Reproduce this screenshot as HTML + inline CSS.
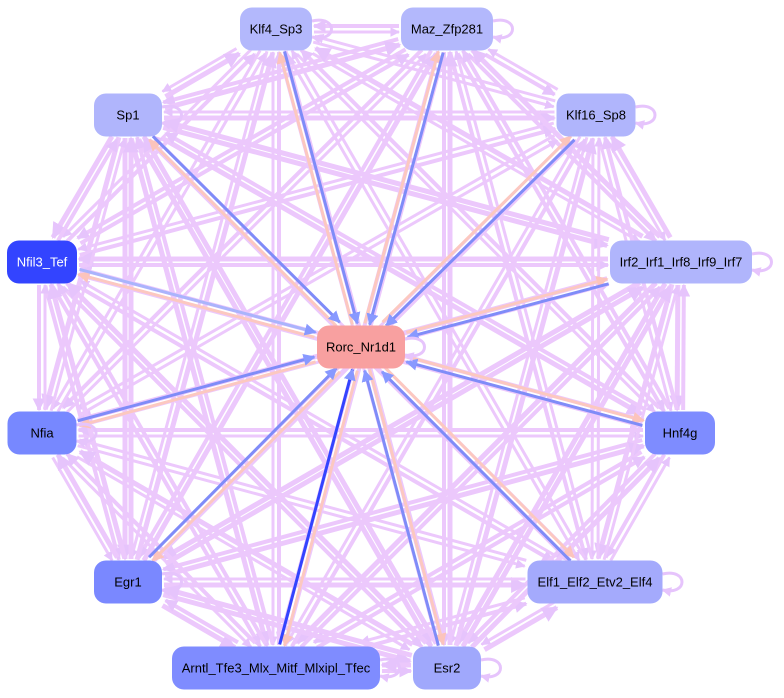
<!DOCTYPE html>
<html><head><meta charset="utf-8"><style>
html,body{margin:0;padding:0;background:#fff;width:784px;height:698px;overflow:hidden}
svg text{font-family:"Liberation Sans",sans-serif;font-size:13px;text-anchor:middle;dominant-baseline:central}
</style></head><body>
<svg id="s" width="784" height="698" xmlns="http://www.w3.org/2000/svg">
<defs>
<marker id="al" viewBox="0 0 10 10" refX="9" refY="5" markerWidth="3.2" markerHeight="3.2" orient="auto"><path d="M0,0L10,5L0,10z" fill="#e6c4fc"/></marker>
<marker id="ab" viewBox="0 0 10 10" refX="9" refY="5" markerWidth="4" markerHeight="4" orient="auto"><path d="M0,0L10,5L0,10z" fill="#8899ff"/></marker>
<marker id="ap" viewBox="0 0 10 10" refX="9" refY="5" markerWidth="4" markerHeight="4" orient="auto"><path d="M0,0L10,5L0,10z" fill="#fcc4bc"/></marker>
</defs>
<g id="edges"></g>
<g id="nodes"></g>
</svg>
<script>
var N=[
["Klf4_Sp3",276,29,72,"#b3b8fc","#000"],
["Maz_Zfp281",447,29,92,"#b3b8fc","#000"],
["Sp1",128,115,68,"#b0b5fc","#000"],
["Klf16_Sp8",596,115,79,"#b0b5fc","#000"],
["Nfil3_Tef",42,262,70,"#3344ff","#fff"],
["Irf2_Irf1_Irf8_Irf9_Irf7",681,262,142,"#b0b5fc","#000"],
["Nfia",42,433,69,"#7788ff","#000"],
["Hnf4g",680,433,70,"#7e8cff","#000"],
["Egr1",128,582,68,"#7a88ff","#000"],
["Elf1_Elf2_Etv2_Elf4",595,582,135,"#a4aafc","#000"],
["Arntl_Tfe3_Mlx_Mitf_Mlxipl_Tfec",276,668,208,"#7f8cff","#000"],
["Esr2",447,668,68,"#a0a8fc","#000"]];
var R=[361,347,88];
var E=document.getElementById("edges"),G=document.getElementById("nodes"),ns="http://www.w3.org/2000/svg";
function ln(x1,y1,x2,y2,c,w,m){var l=document.createElementNS(ns,"line");l.setAttribute("x1",x1);l.setAttribute("y1",y1);l.setAttribute("x2",x2);l.setAttribute("y2",y2);l.setAttribute("stroke",c);l.setAttribute("stroke-width",w);if(m)l.setAttribute("marker-end","url(#"+m+")");E.appendChild(l);}
function clip(n,x,y){var hw=n[3]/2+2,hh=23,dx=x-n[1],dy=y-n[2];var t=Math.min(hw/Math.abs(dx||1e-6),hh/Math.abs(dy||1e-6));return [n[1]+dx*t,n[2]+dy*t];}
for(var i=0;i<N.length;i++)for(var j=0;j<N.length;j++){if(i==j)continue;var a=N[i],b=N[j];
var dx=b[1]-a[1],dy=b[2]-a[2],L=Math.hypot(dx,dy),ox=-dy/L*3,oy=dx/L*3;
var p=clip(a,b[1],b[2]),q=clip(b,a[1],a[2]);
ln(p[0]+ox,p[1]+oy,q[0]+ox,q[1]+oy,"#ecc8fc",((i*7+j*3)%3)+3,"al");}
var rn=["Rorc_Nr1d1",R[0],R[1],R[2]];
for(var i=0;i<N.length;i++){var a=N[i];var p=clip(a,R[0],R[1]),q=clip(rn,a[1],a[2]);
var dx=R[0]-a[1],dy=R[1]-a[2],L=Math.hypot(dx,dy),ox=-dy/L*2.5,oy=dx/L*2.5;
var bc=i==4?"#aab4fc":(i==10?"#3344ff":"#7f8cf8");
ln(q[0]+ox,q[1]+oy,p[0]+ox,p[1]+oy,"#fcc8c0",3,"ap");
ln(p[0]-ox,p[1]-oy,q[0]-ox,q[1]-oy,bc,3,"ab");}
function loop(x,y){var p=document.createElementNS(ns,"path");p.setAttribute("d","M"+x+","+(y-8)+" C"+(x+26)+","+(y-14)+" "+(x+26)+","+(y+14)+" "+x+","+(y+8));p.setAttribute("fill","none");p.setAttribute("stroke","#e6c4fc");p.setAttribute("stroke-width","3");p.setAttribute("marker-end","url(#al)");E.appendChild(p);}
N.forEach(function(n){if(n[0]!="Nfil3_Tef"&&n[0]!="Hnf4g")loop(n[1]+n[3]/2,n[2]);});
loop(R[0]+44,R[1]);
function node(n){var r=document.createElementNS(ns,"rect");r.setAttribute("x",n[1]-n[3]/2);r.setAttribute("y",n[2]-21.5);r.setAttribute("width",n[3]);r.setAttribute("height",43);r.setAttribute("rx",12);r.setAttribute("fill",n[4]);G.appendChild(r);
var t=document.createElementNS(ns,"text");t.setAttribute("x",n[1]);t.setAttribute("y",n[2]);t.setAttribute("fill",n[5]);t.textContent=n[0];G.appendChild(t);}
N.forEach(node);node(["Rorc_Nr1d1",R[0],R[1],R[2],"#f8a0a0","#000"]);
</script>
</body></html>
